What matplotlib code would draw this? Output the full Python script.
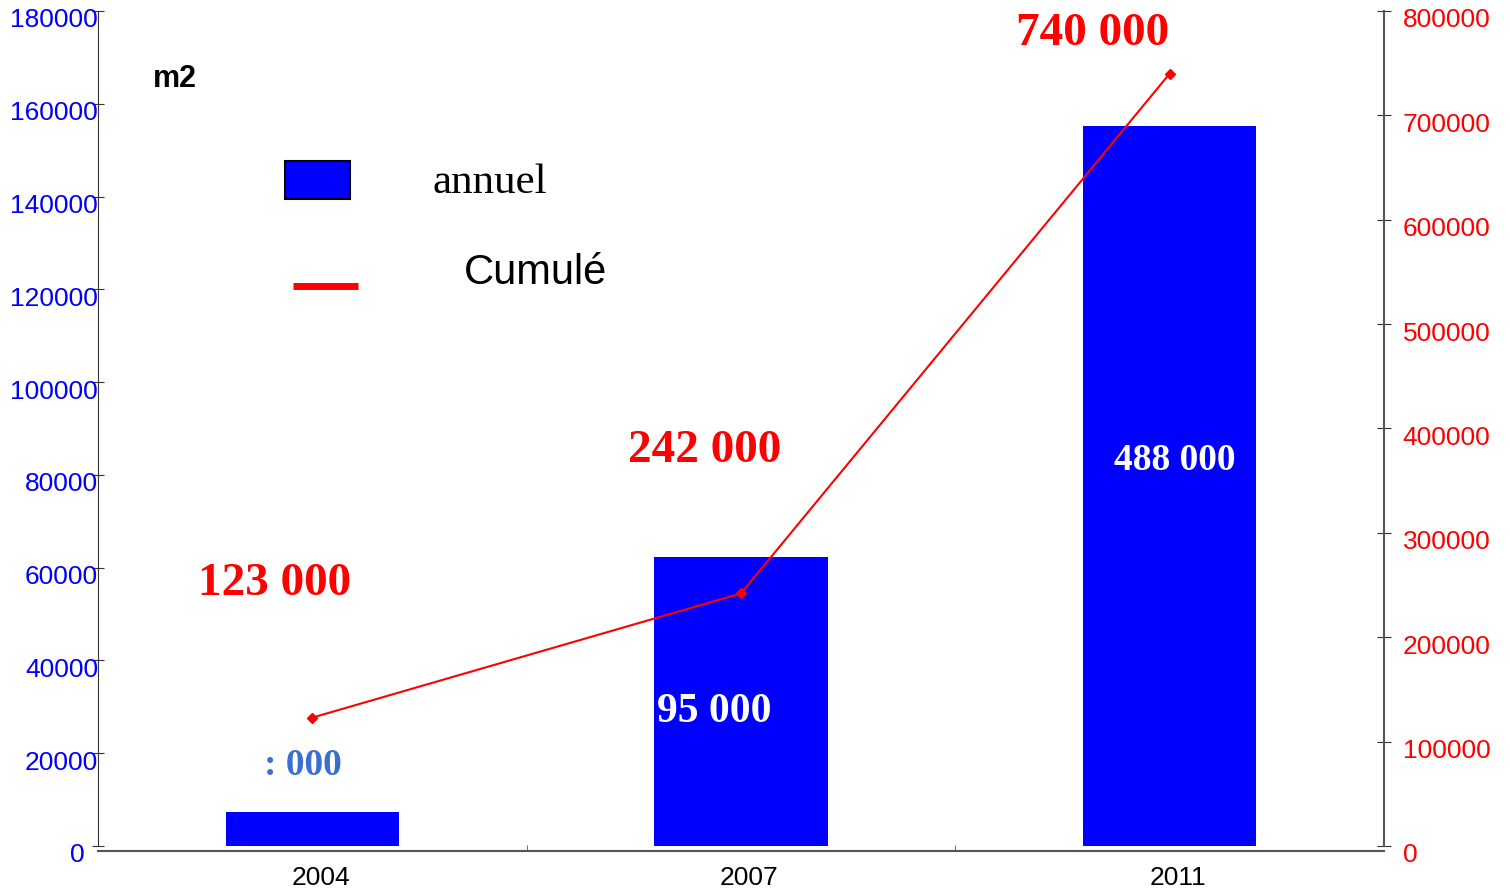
import matplotlib.pyplot as plt
import matplotlib.transforms as mtransforms
from matplotlib.patches import Rectangle
from matplotlib.lines import Line2D

# data
years = ['2004', '2007', '2011']
annual = [7300, 62300, 155200]          # m2 per year (left axis)
cumul = [123000, 242000, 740000]        # cumulated m2 (right axis)
cumul_labels = ['123 000', '242 000', '740 000']
annual_labels = [': 000', '95 000', '488 000']
left_ticks = [0, 20000, 40000, 60000, 80000, 100000, 120000, 140000, 160000, 180000]
right_ticks = [0, 100000, 200000, 300000, 400000, 500000, 600000, 700000, 800000]

plt.rcParams['font.family'] = 'Liberation Sans'

fig = plt.figure(figsize=(15.1, 8.89), dpi=100)
ax = fig.add_axes([98 / 1510, 1 - 846 / 889, (1384 - 98) / 1510, (846 - 11) / 889])
ax2 = ax.twinx()

x = list(range(len(years)))
ax.bar(x, annual, width=0.405, color='#0000ff', zorder=2)
ax2.plot(x, cumul, color='#ff0000', lw=1.5, marker='D', markersize=5, zorder=3)

ax.set_xlim(-0.5, 2.5)
ax.set_ylim(0, 180000)
ax2.set_ylim(0, 800000)

# year labels sit a bit right of the bar centres (ticks are invisible)
ax.set_xticks([i + 0.019 for i in x])
ax.set_xticklabels(years)
ax.set_xticks([0.5, 1.5], minor=True)
ax.tick_params(axis='x', which='major', length=0, pad=11, labelsize=19)
ax.tick_params(axis='x', which='minor', direction='in', length=4, color='#555555')

ax.set_yticks(left_ticks)
ax.set_yticklabels([str(t) for t in left_ticks])
ax.tick_params(axis='y', direction='inout', length=9, pad=-4.5, labelsize=19,
               labelcolor='#0000ff', color='#333333')
ax2.set_yticks(right_ticks)
ax2.set_yticklabels([str(t) for t in right_ticks])
ax2.tick_params(axis='y', direction='inout', length=10, pad=8.5, labelsize=19,
                labelcolor='#ff0000', color='#333333')

# tick labels sit a little below their ticks
shift = mtransforms.ScaledTranslation(0, -7 / 100, fig.dpi_scale_trans)
for lab in ax.get_yticklabels() + ax2.get_yticklabels():
    lab.set_transform(lab.get_transform() + shift)
zero_lab = ax.get_yticklabels()[0]
zero_lab.set_transform(zero_lab.get_transform()
                       + mtransforms.ScaledTranslation(-13 / 100, 0, fig.dpi_scale_trans))

for a in (ax, ax2):
    a.spines['top'].set_visible(False)
ax.spines['right'].set_visible(False)
ax2.spines['left'].set_visible(False)
ax2.spines['bottom'].set_visible(False)
ax.spines['bottom'].set_position(('outward', 3.6))
ax.spines['bottom'].set_color('#555555')
ax.spines['bottom'].set_linewidth(1.5)
ax.spines['left'].set_color('#333333')
ax2.spines['right'].set_color('#555555')
ax2.spines['right'].set_linewidth(1.5)

# value labels
serif = 'Liberation Serif'
cum_pos = [(-0.089, 240500), (0.914, 367900), (1.819, 767400)]
for (px, py), s in zip(cum_pos, cumul_labels):
    ax2.text(px, py, s, color='#ff0000', fontsize=34, fontweight='bold',
             family=serif, ha='center', va='baseline', zorder=4)
ann_pos = [(-0.022, 68000), (0.937, 118800), (2.012, 360200)]
ann_cols = ['#3a6fd0', 'white', 'white']
ann_size = [27, 30, 27]
for (px, py), s, c, fs in zip(ann_pos, annual_labels, ann_cols, ann_size):
    ax2.text(px, py, s, color=c, fontsize=fs, fontweight='bold',
             family=serif, ha='center', va='baseline', zorder=4)

# unit and legend
fig.text(153 / 1510, 1 - 87 / 889, 'm2', fontsize=22, fontweight='bold', va='baseline')
fig.patches.append(Rectangle((285 / 1510, 1 - 199 / 889), 65 / 1510, 38 / 889,
                             facecolor='#0000ff', edgecolor='black', lw=1.5,
                             transform=fig.transFigure, figure=fig))
fig.text(432 / 1510, 1 - 193 / 889, 'annuel', fontsize=31, family=serif, va='baseline')
fig.lines.append(Line2D([293 / 1510, 358 / 1510], [1 - 286 / 889] * 2, color='#ff0000',
                        lw=5, solid_capstyle='butt', transform=fig.transFigure, figure=fig))
fig.text(464 / 1510, 1 - 284 / 889, 'Cumulé', fontsize=30, va='baseline')

fig.savefig('out.png', dpi=100)
